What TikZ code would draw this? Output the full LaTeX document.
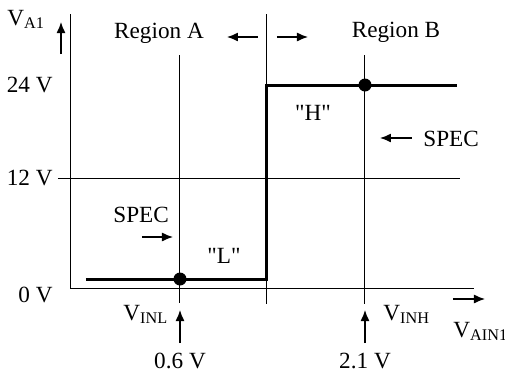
\documentclass[tikz,border=0pt]{standalone}
\usepackage{fontspec}
\setmainfont{Liberation Serif}[Ligatures=TeXOff]
\usepackage{amsmath}
\usetikzlibrary{positioning,arrows.meta}

\begin{document}
\begin{tikzpicture}[x=0.5pt,y=-0.5pt,font=\fontsize{11.6}{14}\selectfont,
   grid line/.style={line width=0.5pt},
   level/.style={line width=1.5pt},
   pointer/.style={-{Latex[length=5.5pt,width=4.5pt]},line width=0.65pt},
   dot/.style={circle,fill,inner sep=0pt,minimum size=6.5pt},
   txt/.style={inner sep=0pt}]
   \useasboundingbox (0,0) rectangle (505,376);
   % frame and grid
   \coordinate (top)    at (71,14);
   \coordinate (origin) at (71,288);
   \coordinate (xend)   at (474,288);
   \draw[grid line] (top) -- (origin) -- (xend);
   \draw[grid line] (58,178) -- (460,178);
   \draw[grid line] (180,55) -- (180,303);
   \draw[grid line] (267,14) -- (267,304);
   \draw[grid line] (365,55) -- (365,304);
   % transfer curve
   \draw[level] (86,279) -- (267,279) -- (267,85) -- (457,85);
   \node[dot] (pL) at (180,279) {};
   \node[dot] (pH) at (365,85) {};
   % axis labels
   \node[txt,anchor=base west] (va) at (7,25) {V$_{\text{A1}}$};
   \node[txt,anchor=base west] (vain) at (453,337) {V$_{\text{AIN1}}$};
   \node[txt,anchor=base east] (v24) at (53,92) {24 V};
   \node[txt,anchor=base east] (v12) at (53,185) {12 V};
   \node[txt,anchor=base east] (v0) at (53,302) {0 V};
   \node[txt,anchor=base] (rA) at (159,38) {Region A};
   \node[txt,anchor=base] (rB) at (396,37) {Region B};
   \node[txt,anchor=base] (hi) at (313,120) {"H"};
   \node[txt,anchor=base] (lo) at (224,263) {"L"};
   \node[txt,anchor=base west] (specB) at (423,146) {SPEC};
   \node[txt,anchor=base west] (specA) at (113,222) {SPEC};
   \node[txt,anchor=base west] (vinl) at (123,320) {V$_{\text{INL}}$};
   \node[txt,anchor=base west] (vinh) at (383,320) {V$_{\text{INH}}$};
   \node[txt,anchor=base] (thL) at (180,368) {0.6 V};
   \node[txt,anchor=base] (thH) at (365,368) {2.1 V};
   % small arrows
   \coordinate (ya0) at (61,54);  \coordinate (ya1) at (61,22);
   \coordinate (xa0) at (453,299); \coordinate (xa1) at (485,299);
   \coordinate (la0) at (258,37); \coordinate (la1) at (227,37);
   \coordinate (ra0) at (277,37); \coordinate (ra1) at (308,37);
   \coordinate (sb0) at (412,138); \coordinate (sb1) at (380,138);
   \coordinate (sa0) at (142,237); \coordinate (sa1) at (173,237);
   \coordinate (tl0) at (180,343); \coordinate (tl1) at (180,310);
   \coordinate (th0) at (365,343); \coordinate (th1) at (365,310);
   \foreach \a/\b in {ya0/ya1,xa0/xa1,la0/la1,ra0/ra1,sb0/sb1,sa0/sa1,tl0/tl1,th0/th1}
      \draw[pointer] (\a) -- (\b);
\end{tikzpicture}
\end{document}
